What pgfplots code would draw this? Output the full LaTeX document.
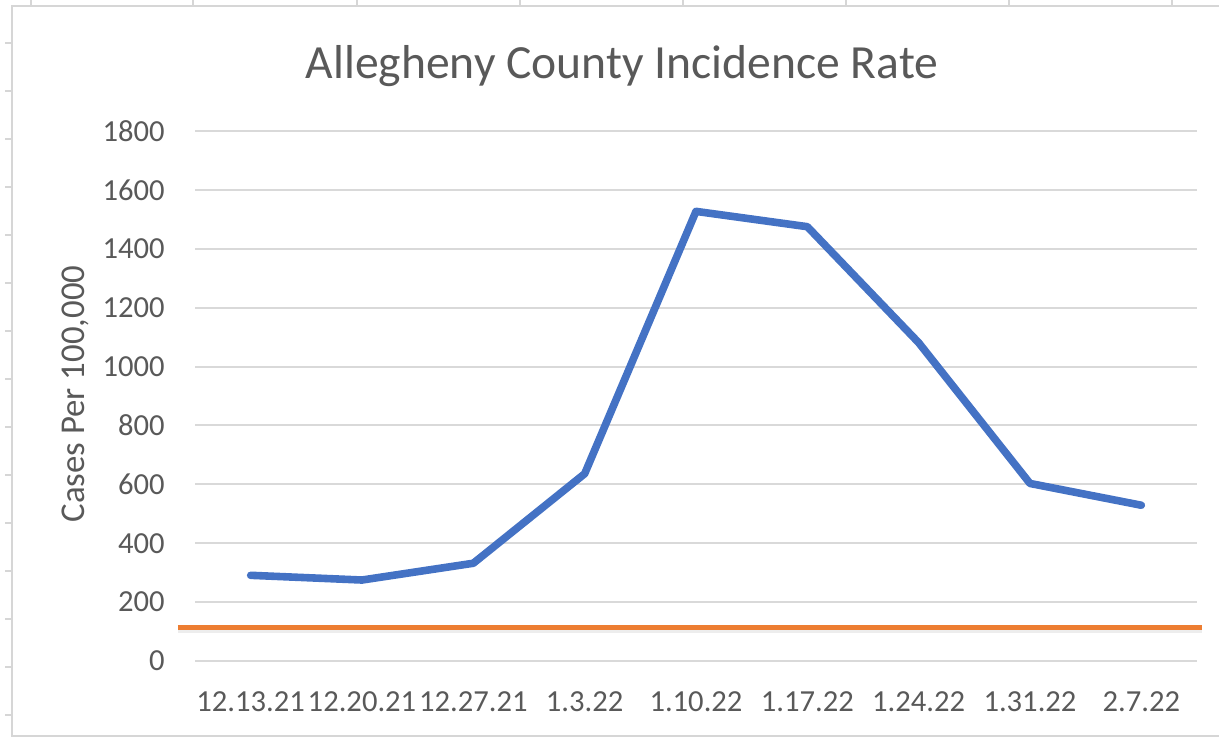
\documentclass[border=0pt]{standalone}
\usepackage{fontspec}
\setmainfont{Carlito}
\usepackage{pgfplots}
\pgfplotsset{compat=1.18}
\definecolor{xblue}{HTML}{4472C4}
\definecolor{xorange}{HTML}{ED7D31}
\definecolor{xgrid}{HTML}{D9D9D9}
\definecolor{xtext}{HTML}{595959}
\definecolor{xsheet}{HTML}{D6D6D6}
\begin{document}
\begin{tikzpicture}
\useasboundingbox (0,0) rectangle (609.5pt,369pt);
\begin{scope}[x=0.5pt,y=-0.5pt,shift={(0pt,369pt)}]
  \draw[xsheet, line width=1pt] (1219,736) -- (12,736) -- (12,6) -- (1219,6);
  \foreach \x in {31,193,357,520,683,846,1009,1172} \draw[xsheet,line width=0.6pt] (\x,0)--(\x,6);
  \foreach \y in {43,91,...,735} \draw[xsheet,line width=0.6pt] (5,\y)--(11,\y);
  \node[text=xtext, font=\fontsize{23.8pt}{28pt}\selectfont, anchor=base, inner sep=0pt] at (622,79) {Allegheny County Incidence Rate};
  \node[text=xtext, rotate=90, font=\fontsize{17.4pt}{21pt}\selectfont, inner sep=0pt] at (75,394) {Cases Per 100,000};
\end{scope}
\begin{axis}[
  at={(97.5pt,38.5pt)}, anchor=south west,
  scale only axis, width=501pt, height=265pt,
  xmin=-0.5, xmax=8.5, ymin=0, ymax=1800,
  ytick={0,200,...,1800},
  xtick={0,...,8},
  xticklabels={12.13.21,12.20.21,12.27.21,1.3.22,1.10.22,1.17.22,1.24.22,1.31.22,2.7.22},
  ymajorgrids, grid style={xgrid, line width=1pt},
  axis line style={draw=none},
  major tick length=0pt,
  tick label style={font=\fontsize{15.3pt}{18pt}\selectfont, text=xtext},
  /pgf/number format/assume math mode=true,
  /pgf/number format/1000 sep={},
  yticklabel style={inner sep=0pt, anchor=east, xshift=-15pt},
  xticklabel style={inner sep=0pt, anchor=north, yshift=-15pt},
  clip=false,
]
\addplot[black, opacity=0.07, line width=3.5pt, yshift=-1pt, forget plot] coordinates {(-0.653,113) (8.547,113)};
\addplot[xorange, line width=2.5pt] coordinates {(-0.653,113) (8.547,113)};
\addplot[xblue, line width=3.8pt, line cap=round, line join=round] coordinates {
(0,291) (1,275) (2,332) (3,636) (4,1527) (5,1475) (6,1081) (7,603) (8,529)};
\end{axis}
\end{tikzpicture}
\end{document}
